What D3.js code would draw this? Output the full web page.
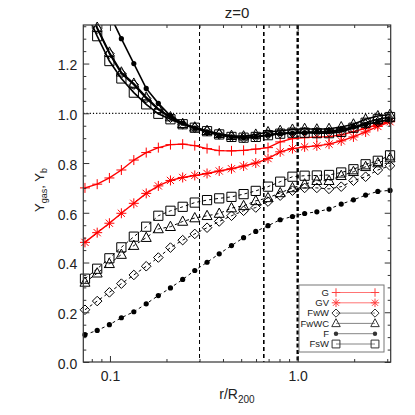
<!DOCTYPE html>
<html>
<head>
<meta charset="utf-8">
<script src="https://cdn.jsdelivr.net/npm/d3@7"></script>
<style>
  body { margin: 0; background: #fff; }
  text { font-family: "Liberation Sans", Arial, sans-serif; fill: #222; }
</style>
</head>
<body>
<svg id="chart" width="415" height="415"></svg>
<script>
// radial bins, r/R200
const radii = [0.0736, 0.0855, 0.0993, 0.115, 0.134, 0.156, 0.181, 0.210, 0.244, 0.283,
  0.329, 0.382, 0.444, 0.515, 0.598, 0.695, 0.807, 0.938, 1.089, 1.265,
  1.469, 1.706, 1.982, 2.301, 2.673, 3.105];

// red runs (gas only)
const gG = [0.70, 0.715, 0.74, 0.772, 0.812, 0.842, 0.862, 0.874, 0.876, 0.870,
  0.858, 0.850, 0.849, 0.851, 0.856, 0.862, 0.885, 0.898, 0.902, 0.904,
  0.906, 0.913, 0.926, 0.940, 0.955, 0.968];
const gGV = [0.481, 0.52, 0.558, 0.598, 0.638, 0.678, 0.708, 0.730, 0.742, 0.750,
  0.758, 0.768, 0.777, 0.788, 0.800, 0.818, 0.845, 0.858, 0.865, 0.869,
  0.876, 0.889, 0.905, 0.925, 0.947, 0.966];

// black runs: gas fraction (dashed)
const gasFwW = [0.21, 0.245, 0.28, 0.315, 0.35, 0.385, 0.42, 0.46, 0.49, 0.515,
  0.54, 0.565, 0.588, 0.608, 0.621, 0.645, 0.669, 0.689, 0.70, 0.70,
  0.696, 0.705, 0.729, 0.745, 0.772, 0.789];
const gasFwWC = [0.32, 0.357, 0.395, 0.432, 0.468, 0.50, 0.535, 0.544, 0.565, 0.579,
  0.588, 0.597, 0.619, 0.628, 0.648, 0.66, 0.68, 0.70, 0.715, 0.729,
  0.729, 0.749, 0.765, 0.785, 0.80, 0.82];
const gasF = [0.11, 0.127, 0.15, 0.178, 0.202, 0.234, 0.267, 0.298, 0.332, 0.368,
  0.401, 0.435, 0.468, 0.50, 0.525, 0.548, 0.572, 0.585, 0.597, 0.604,
  0.615, 0.635, 0.652, 0.671, 0.686, 0.69];
const gasFsW = [0.335, 0.375, 0.417, 0.461, 0.504, 0.544, 0.588, 0.608, 0.624, 0.641,
  0.651, 0.658, 0.664, 0.675, 0.688, 0.705, 0.725, 0.745, 0.749, 0.75,
  0.752, 0.762, 0.775, 0.795, 0.809, 0.831];

// black runs: baryon fraction (solid)
const barFwW = [1.46, 1.34, 1.24, 1.16, 1.115, 1.06, 1.015, 0.982, 0.956, 0.942,
  0.928, 0.915, 0.905, 0.90, 0.905, 0.915, 0.92, 0.922, 0.925, 0.925,
  0.925, 0.93, 0.94, 0.955, 0.965, 0.975];
const barFwWC = [1.48, 1.345, 1.245, 1.165, 1.12, 1.065, 1.018, 0.985, 0.958, 0.944,
  0.93, 0.918, 0.91, 0.908, 0.915, 0.925, 0.93, 0.935, 0.938, 0.936,
  0.938, 0.945, 0.956, 0.976, 0.989, 0.995];
const barF = [1.62, 1.50, 1.40, 1.30, 1.20, 1.10, 1.04, 0.99, 0.96, 0.94,
  0.925, 0.912, 0.905, 0.902, 0.905, 0.912, 0.918, 0.92, 0.922, 0.925,
  0.928, 0.935, 0.945, 0.955, 0.965, 0.975];
const barFsW = [1.42, 1.31, 1.21, 1.14, 1.083, 1.036, 0.998, 0.976, 0.956, 0.942,
  0.928, 0.915, 0.905, 0.902, 0.905, 0.912, 0.918, 0.922, 0.922, 0.92,
  0.92, 0.925, 0.942, 0.962, 0.976, 0.985];

const legendLabels = ["G", "GV", "FwW", "FwWC", "F", "FsW"];
const legendSymbols = ["plus", "star", "diamond", "triangle", "dot", "square"];
const legendColors = ["red", "red", "black", "black", "black", "black"];

const refLines = [0.3, 0.66, 1.0];
const yTicks = [0, 0.2, 0.4, 0.6, 0.8, 1.0, 1.2];
const xTicksMajor = [0.1, 1];
const xTicksMinor = [0.08, 0.09, 0.2, 0.3, 0.4, 0.5, 0.6, 0.7, 0.8, 0.9, 2, 3];

const svg = d3.select("#chart");
const pLeft = 83.3, pRight = 390.7, pTop = 25, pBottom = 362;

const x = d3.scaleLog().domain([0.0721, 3.13]).range([pLeft, pRight]);
const y = d3.scaleLinear().domain([0, 1.355]).range([pBottom, pTop]);

svg.append("clipPath").attr("id", "clip")
  .append("rect").attr("x", pLeft).attr("y", pTop)
  .attr("width", pRight - pLeft).attr("height", pBottom - pTop);

// symbol path, centred on 0,0
function symbolPath(type, s) {
  if (type === "plus") return `M${-5 * s},0H${5 * s}M0,${-5 * s}V${5 * s}`;
  if (type === "star") {
    const d = 3.6 * s;
    return `M${-5 * s},0H${5 * s}M0,${-5 * s}V${5 * s}M${-d},${-d}L${d},${d}M${-d},${d}L${d},${-d}`;
  }
  if (type === "diamond") return `M0,${-4.8 * s}L${4.8 * s},0L0,${4.8 * s}L${-4.8 * s},0Z`;
  if (type === "triangle") return `M0,${-5.5 * s}L${5 * s},${3.8 * s}L${-5 * s},${3.8 * s}Z`;
  if (type === "square") return `M${-4.6 * s},${-4.6 * s}H${4.6 * s}V${4.6 * s}H${-4.6 * s}Z`;
  return null;
}

function drawMarker(g, type, cx, cy, color, s = 1) {
  if (type === "dot") {
    g.append("circle").attr("cx", cx).attr("cy", cy).attr("r", 2.6 * s).attr("fill", color);
  } else {
    g.append("path").attr("d", symbolPath(type, s))
      .attr("transform", `translate(${cx},${cy})`)
      .attr("fill", "none").attr("stroke", color).attr("stroke-width", 1);
  }
}

const line = d3.line().x((d) => x(d[0])).y((d) => y(d[1]));

function drawSeries(values, type, color, width, dash) {
  const pts = radii.map((r, i) => [r, values[i]]);
  const g = svg.append("g");
  g.append("path").attr("d", line(pts)).attr("clip-path", "url(#clip)")
    .attr("fill", "none").attr("stroke", color).attr("stroke-width", width)
    .attr("stroke-dasharray", dash);
  pts.forEach((p) => {
    if (p[1] <= 1.36) drawMarker(g, type, x(p[0]), y(p[1]), color);
  });
}

// reference lines
svg.append("line").attr("x1", pLeft).attr("x2", pRight).attr("y1", y(1)).attr("y2", y(1))
  .attr("stroke", "#000").attr("stroke-width", 1.2).attr("stroke-dasharray", "1.2,2");
const vWidths = [1, 1.6, 2.4];
const vDash = ["4,3", "4,3", "4,2.5"];
refLines.forEach((r, i) => {
  svg.append("line").attr("x1", x(r)).attr("x2", x(r)).attr("y1", pTop).attr("y2", pBottom)
    .attr("stroke", "#000").attr("stroke-width", vWidths[i]).attr("stroke-dasharray", vDash[i]);
});

// data
drawSeries(gasF, "dot", "#000", 1, "3,3");
drawSeries(gasFwW, "diamond", "#000", 1, "3,3");
drawSeries(gasFwWC, "triangle", "#000", 1, "3,3");
drawSeries(gasFsW, "square", "#000", 1, "3,3");
drawSeries(gGV, "star", "red", 1.4, null);
drawSeries(gG, "plus", "red", 1.4, null);
drawSeries(barF, "dot", "#000", 1.6, null);
drawSeries(barFwW, "diamond", "#000", 1.6, null);
drawSeries(barFwWC, "triangle", "#000", 1.6, null);
drawSeries(barFsW, "square", "#000", 1.6, null);

// axes, ticks pointing inwards on all four sides
function styleAxis(g) {
  g.select(".domain").remove();
  g.selectAll(".tick line").attr("stroke", "#333");
  g.selectAll(".tick text").style("font-size", "14px").attr("fill", "#333");
}
const fmt = d3.format(".1f");
svg.append("g").attr("transform", `translate(0,${pBottom})`)
  .call(d3.axisBottom(x).tickValues(xTicksMajor).tickSize(-6).tickPadding(9)
    .tickFormat(fmt)).call(styleAxis);
svg.append("g").attr("transform", `translate(0,${pBottom})`)
  .call(d3.axisBottom(x).tickValues(xTicksMinor).tickSize(-3).tickFormat("")).call(styleAxis);
svg.append("g").attr("transform", `translate(0,${pTop})`)
  .call(d3.axisTop(x).tickValues(xTicksMajor).tickSize(-6).tickFormat("")).call(styleAxis);
svg.append("g").attr("transform", `translate(0,${pTop})`)
  .call(d3.axisTop(x).tickValues(xTicksMinor).tickSize(-3).tickFormat("")).call(styleAxis);

const yMinor = d3.range(0, 1.36, 0.05).filter((v) => Math.abs(v / 0.2 - Math.round(v / 0.2)) > 0.01);
svg.append("g").attr("transform", `translate(${pLeft},0)`)
  .call(d3.axisLeft(y).tickValues(yTicks).tickSize(-6).tickPadding(6).tickFormat(fmt))
  .call(styleAxis).selectAll(".tick text").attr("dy", "0.45em");
svg.append("g").attr("transform", `translate(${pLeft},0)`)
  .call(d3.axisLeft(y).tickValues(yMinor).tickSize(-3).tickFormat("")).call(styleAxis);
svg.append("g").attr("transform", `translate(${pRight},0)`)
  .call(d3.axisRight(y).tickValues(yTicks).tickSize(-6).tickFormat("")).call(styleAxis);
svg.append("g").attr("transform", `translate(${pRight},0)`)
  .call(d3.axisRight(y).tickValues(yMinor).tickSize(-3).tickFormat("")).call(styleAxis);

svg.append("rect").attr("x", pLeft).attr("y", pTop)
  .attr("width", pRight - pLeft).attr("height", pBottom - pTop)
  .attr("fill", "none").attr("stroke", "#333").attr("stroke-width", 1.2);

// titles
svg.append("text").attr("x", 237).attr("y", 18).attr("text-anchor", "middle")
  .style("font-size", "15px").attr("fill", "#333").text("z=0");

const xl = svg.append("text").attr("x", 237).attr("y", 399).attr("text-anchor", "middle")
  .style("font-size", "14px").attr("fill", "#333");
xl.append("tspan").text("r/R");
xl.append("tspan").attr("dy", 4).style("font-size", "10px").text("200");

const yl = svg.append("text").attr("transform", "translate(44,190) rotate(-90)")
  .attr("text-anchor", "middle").style("font-size", "13px").attr("fill", "#333");
yl.append("tspan").text("Y");
yl.append("tspan").attr("dy", 3).style("font-size", "9px").text("gas");
yl.append("tspan").attr("dy", -3).text(", Y");
yl.append("tspan").attr("dy", 3).style("font-size", "9px").text("b");

// legend
const lg = svg.append("g");
lg.append("rect").attr("x", 299).attr("y", 285).attr("width", 85).attr("height", 67)
  .attr("fill", "#fff").attr("stroke", "#777").attr("stroke-width", 1);
legendLabels.forEach((lab, i) => {
  const ly = 292.5 + i * 10.3;
  const c = legendColors[i] === "red" ? "#ff5050" : "#666";
  lg.append("line").attr("x1", 336).attr("x2", 375).attr("y1", ly).attr("y2", ly)
    .attr("stroke", c).attr("stroke-width", 0.8);
  drawMarker(lg, legendSymbols[i], 336, ly, legendColors[i] === "red" ? "#ff4040" : "#333", 0.85);
  drawMarker(lg, legendSymbols[i], 375, ly, legendColors[i] === "red" ? "#ff4040" : "#333", 0.85);
  lg.append("text").attr("x", 329).attr("y", ly + 3.3).attr("text-anchor", "end")
    .style("font-size", "9.5px").text(lab);
});
</script>
</body>
</html>
